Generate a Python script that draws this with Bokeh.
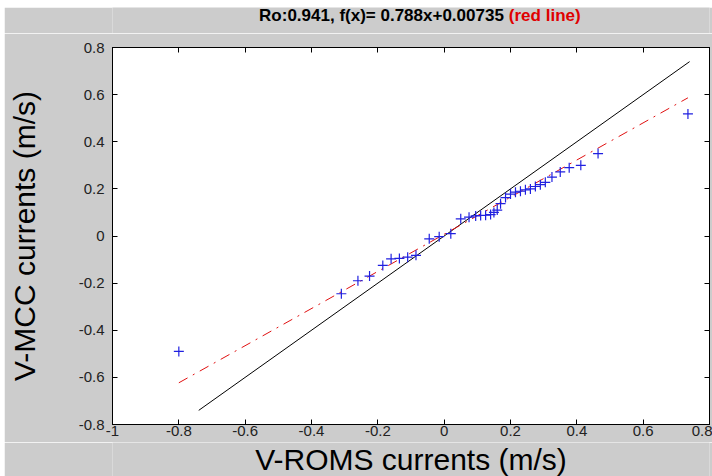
from bokeh.plotting import figure
from bokeh.models import Range1d, LinearAxis, FixedTicker, Spacer, CustomJSTickFormatter
from bokeh.layouts import row, column
from bokeh.embed import file_html
from bokeh.resources import INLINE

# ---- data ----
roms_v = [-0.80, -0.31, -0.26, -0.225, -0.185, -0.16, -0.135, -0.11, -0.085,
          -0.045, -0.015, 0.02, 0.05, 0.075, 0.095, 0.11, 0.125, 0.14, 0.15,
          0.16, 0.17, 0.185, 0.20, 0.215, 0.23, 0.245, 0.26, 0.275, 0.29,
          0.305, 0.325, 0.35, 0.377, 0.412, 0.464, 0.735]
mcc_v = [-0.49, -0.245, -0.19, -0.17, -0.125, -0.097, -0.095, -0.09, -0.082,
         -0.012, -0.003, 0.01, 0.073, 0.08, 0.085, 0.087, 0.088, 0.091, 0.10,
         0.11, 0.137, 0.163, 0.178, 0.186, 0.19, 0.196, 0.20, 0.21, 0.218,
         0.228, 0.25, 0.272, 0.29, 0.30, 0.35, 0.518]
fit_slope = 0.788
fit_intercept = 0.00735
one_to_one = [-0.74, 0.74]
x_ticks = [-1, -0.8, -0.6, -0.4, -0.2, 0, 0.2, 0.4, 0.6, 0.8]
y_ticks = [-0.8, -0.6, -0.4, -0.2, 0, 0.2, 0.4, 0.6, 0.8]
x_limits = [-1, 0.8]
y_limits = [-0.8, 0.8]
title_parts = ["Ro:0.941, f(x)= 0.788x+0.00735", "(red line)"]
title_colors = ["black", "#e00000"]
x_title = "V-ROMS currents (m/s)"
y_title = "V-MCC currents (m/s)"

FONT = "Liberation Sans"
BG = "#cccccc"
W = 708


def strip(height, y_max):
    f = figure(width=W, height=height, output_backend="svg", toolbar_location=None,
               x_range=Range1d(*x_limits), y_range=Range1d(0, y_max), min_border=0,
               x_axis_location=None, y_axis_location=None)
    f.border_fill_color = BG
    f.background_fill_color = BG
    f.outline_line_color = None
    f.xgrid.visible = False
    f.ygrid.visible = False
    return f


# ---- title strip (frame aligned with the main plot's frame) ----
tfig = strip(26, 26)
tfig.text(x=[0.18, 0.195], y=[18, 18], text=title_parts, text_color=title_colors,
          text_align=["right", "left"], text_baseline="middle",
          text_font={"value": FONT}, text_font_size="17px", text_font_style="bold")

# ---- x-axis title strip ----
bfig = strip(34, 34)
bfig.text(x=[(x_limits[0] + x_limits[1]) / 2], y=[17], text=[x_title],
          text_align="center", text_baseline="middle",
          text_font={"value": FONT}, text_font_size="30px", text_color="black")

# ---- main plot ----
p = figure(width=W, height=409, output_backend="svg", toolbar_location=None,
           x_range=Range1d(*x_limits), y_range=Range1d(*y_limits),
           min_border_left=107, min_border_right=3, min_border_top=14,
           min_border_bottom=18, x_axis_location=None, y_axis_location=None)
p.border_fill_color = BG
p.background_fill_color = "white"
p.outline_line_color = "black"
p.outline_line_width = 1
p.xgrid.visible = False
p.ygrid.visible = False

fmt = CustomJSTickFormatter(code="return Number(tick.toFixed(1)).toString();")
blank = CustomJSTickFormatter(code="return '';")


def style(ax, ticks, labels=True):
    ax.ticker = FixedTicker(ticks=ticks, minor_ticks=[])
    ax.major_tick_in = 5
    ax.major_tick_out = 0
    ax.minor_tick_in = 0
    ax.minor_tick_out = 0
    ax.axis_line_color = "black"
    ax.major_tick_line_color = "black"
    if labels:
        ax.formatter = fmt
        ax.major_label_text_font = FONT
        ax.major_label_text_font_size = "15px"
        ax.major_label_text_color = "#222222"
        ax.axis_label_text_font = FONT
        ax.axis_label_text_font_size = "30px"
        ax.axis_label_text_font_style = "normal"
        ax.axis_label_text_color = "black"
    else:
        ax.formatter = blank
        ax.major_label_standoff = 0
        ax.major_label_text_font_size = "1px"


bottom = LinearAxis()
style(bottom, x_ticks)
bottom.major_label_standoff = 1
left = LinearAxis(axis_label=y_title)
style(left, y_ticks)
left.major_label_standoff = 8
left.axis_label_standoff = 35
top = LinearAxis()
style(top, x_ticks, labels=False)
right = LinearAxis()
style(right, y_ticks, labels=False)
p.add_layout(bottom, "below")
p.add_layout(left, "left")
p.add_layout(top, "above")
p.add_layout(right, "right")

# 1:1 line
p.line(one_to_one, one_to_one, line_color="black", line_width=1)
# fit line over the data range
fx = [min(roms_v), max(roms_v)]
fy = [fit_slope * v + fit_intercept for v in fx]
p.line(fx, fy, line_color="#e01010", line_width=1, line_dash="10 6 2 6")
# data
p.scatter(roms_v, mcc_v, marker="cross", size=10, line_color="#2020e0", line_width=1.2)

layout = column(Spacer(height=7),
                row(Spacer(width=4), column(tfig, p, bfig)))
open("out.html", "w").write(file_html(layout, INLINE))
